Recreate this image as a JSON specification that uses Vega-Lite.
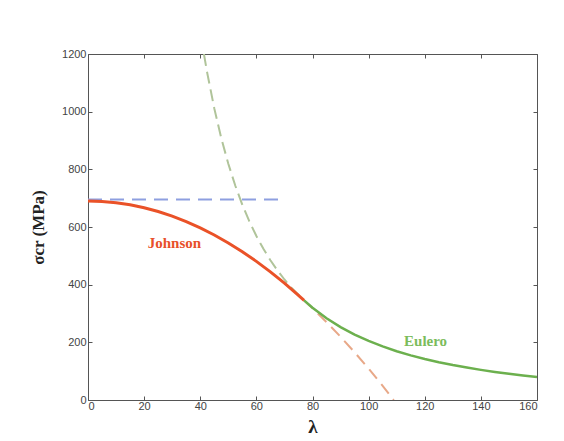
{
  "$schema": "https://vega.github.io/schema/vega-lite/v6.json",
  "autosize": "none",
  "width": 449,
  "height": 346,
  "padding": {"left": 88, "top": 54, "right": 27, "bottom": 41},
  "background": "white",
  "config": {
    "view": {"stroke": "#555", "strokeWidth": 1},
    "axis": {"grid": false, "domain": false, "tickSize": -4, "tickColor": "#555", "labelColor": "#444", "labelFont": "Liberation Sans", "labelFontSize": 11, "format": "d"}
  },
  "datasets": {
    "curves": [
      {"s": "johnson", "l": 0, "v": 690}, {"s": "johnson", "l": 5, "v": 688.55}, {"s": "johnson", "l": 10, "v": 684.19}, {"s": "johnson", "l": 15, "v": 676.92}, {"s": "johnson", "l": 20, "v": 666.75}, {"s": "johnson", "l": 25, "v": 653.68}, {"s": "johnson", "l": 30, "v": 637.69}, {"s": "johnson", "l": 35, "v": 618.81}, {"s": "johnson", "l": 40, "v": 597.01}, {"s": "johnson", "l": 45, "v": 572.31}, {"s": "johnson", "l": 50, "v": 544.7}, {"s": "johnson", "l": 55, "v": 514.19}, {"s": "johnson", "l": 60, "v": 480.78}, {"s": "johnson", "l": 65, "v": 444.45}, {"s": "johnson", "l": 70, "v": 405.22}, {"s": "johnson", "l": 75, "v": 363.09}, {"s": "johnson", "l": 77, "v": 345.42},
      {"s": "jdash", "l": 77, "v": 345.42}, {"s": "jdash", "l": 80, "v": 318.04}, {"s": "jdash", "l": 85, "v": 270.1}, {"s": "jdash", "l": 90, "v": 219.24}, {"s": "jdash", "l": 95, "v": 165.5}, {"s": "jdash", "l": 100, "v": 108.82}, {"s": "jdash", "l": 105, "v": 49.25}, {"s": "jdash", "l": 108.96, "v": 0},
      {"s": "edash", "l": 41.31, "v": 1200}, {"s": "edash", "l": 42.5, "v": 1133.8}, {"s": "edash", "l": 45, "v": 1011.36}, {"s": "edash", "l": 47.5, "v": 907.7}, {"s": "edash", "l": 50, "v": 819.2}, {"s": "edash", "l": 52.5, "v": 743.0}, {"s": "edash", "l": 55, "v": 677.02}, {"s": "edash", "l": 57.5, "v": 619.4}, {"s": "edash", "l": 60, "v": 568.89}, {"s": "edash", "l": 62.5, "v": 524.3}, {"s": "edash", "l": 65, "v": 484.73}, {"s": "edash", "l": 67.5, "v": 449.5}, {"s": "edash", "l": 70, "v": 417.96}, {"s": "edash", "l": 72.5, "v": 389.6}, {"s": "edash", "l": 77, "v": 345.42},
      {"s": "euler", "l": 77, "v": 345.42}, {"s": "euler", "l": 80, "v": 320}, {"s": "euler", "l": 85, "v": 283.46}, {"s": "euler", "l": 90, "v": 252.84}, {"s": "euler", "l": 95, "v": 226.9}, {"s": "euler", "l": 100, "v": 204.8}, {"s": "euler", "l": 105, "v": 185.8}, {"s": "euler", "l": 110, "v": 169.26}, {"s": "euler", "l": 115, "v": 154.9}, {"s": "euler", "l": 120, "v": 142.22}, {"s": "euler", "l": 125, "v": 131.1}, {"s": "euler", "l": 130, "v": 121.18}, {"s": "euler", "l": 135, "v": 112.4}, {"s": "euler", "l": 140, "v": 104.49}, {"s": "euler", "l": 145, "v": 97.4}, {"s": "euler", "l": 150, "v": 91.02}, {"s": "euler", "l": 155, "v": 85.2}, {"s": "euler", "l": 160, "v": 80},
      {"s": "yield", "l": 0, "v": 695}, {"s": "yield", "l": 70, "v": 695}
    ],
    "labels": [
      {"t": "Johnson", "l": 30.8, "v": 544, "c": "j"},
      {"t": "Eulero", "l": 120.3, "v": 205, "c": "e"}
    ]
  },
  "layer": [
    {
      "data": {"name": "curves"},
      "transform": [{"filter": "datum.s === 'yield'"}],
      "mark": {"type": "line", "color": "#8e9fe0", "strokeWidth": 2, "strokeDash": [14, 8], "clip": true},
      "encoding": {
        "x": {"field": "l", "type": "quantitative", "scale": {"domain": [0, 160]}, "axis": {"values": [0,20,40,60,80,100,120,140,160], "title": "λ", "titleFont": "Liberation Serif", "titleFontSize": 19, "titleFontWeight": "bold", "titleColor": "#222", "titlePadding": 6, "labelPadding": 4}},
        "y": {"field": "v", "type": "quantitative", "scale": {"domain": [0, 1200]}, "axis": {"values": [0,200,400,600,800,1000,1200], "title": "σcr (MPa)", "titleFont": "Liberation Serif", "titleFontSize": 17, "titleFontWeight": "bold", "titleColor": "#222", "titlePadding": 14, "labelPadding": 6}}
      }
    },
    {
      "data": {"name": "curves"},
      "transform": [{"filter": "datum.s === 'jdash'"}],
      "mark": {"type": "line", "color": "#e8a888", "strokeWidth": 2, "strokeDash": [12, 7], "clip": true},
      "encoding": {"x": {"field": "l", "type": "quantitative", "axis": null}, "y": {"field": "v", "type": "quantitative", "axis": null}}
    },
    {
      "data": {"name": "curves"},
      "transform": [{"filter": "datum.s === 'edash'"}],
      "mark": {"type": "line", "color": "#b0c49a", "strokeWidth": 2, "strokeDash": [12, 6], "clip": true},
      "encoding": {"x": {"field": "l", "type": "quantitative", "axis": null}, "y": {"field": "v", "type": "quantitative", "axis": null}}
    },
    {
      "data": {"name": "curves"},
      "transform": [{"filter": "datum.s === 'euler'"}],
      "mark": {"type": "line", "color": "#6cb04e", "strokeWidth": 2.5, "clip": true},
      "encoding": {"x": {"field": "l", "type": "quantitative", "axis": null}, "y": {"field": "v", "type": "quantitative", "axis": null}}
    },
    {
      "data": {"name": "curves"},
      "transform": [{"filter": "datum.s === 'johnson'"}],
      "mark": {"type": "line", "color": "#ea5228", "strokeWidth": 3, "clip": true},
      "encoding": {"x": {"field": "l", "type": "quantitative", "axis": null}, "y": {"field": "v", "type": "quantitative", "axis": null}}
    },
    {
      "data": {"name": "labels"},
      "mark": {"type": "text", "font": "Liberation Serif", "fontWeight": "bold", "fontSize": 15},
      "encoding": {
        "x": {"field": "l", "type": "quantitative", "axis": {"orient": "top", "values": [0,20,40,60,80,100,120,140,160], "labels": false, "title": null}},
        "y": {"field": "v", "type": "quantitative", "axis": {"orient": "right", "values": [0,200,400,600,800,1000,1200], "labels": false, "title": null}},
        "text": {"field": "t"},
        "color": {"field": "c", "type": "nominal", "scale": {"domain": ["j", "e"], "range": ["#e8502a", "#7cbc5c"]}, "legend": null}
      }
    }
  ],
  "resolve": {"axis": {"x": "independent", "y": "independent"}}
}
